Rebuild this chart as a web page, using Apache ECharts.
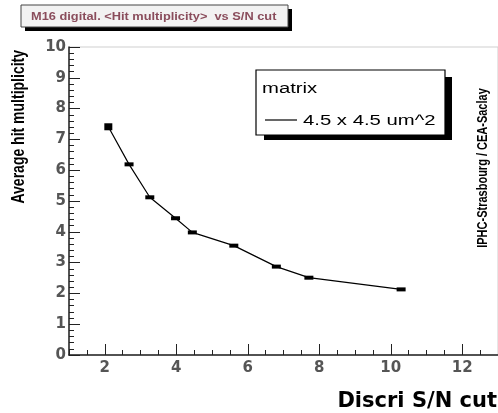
<!DOCTYPE html>
<html>
<head>
<meta charset="utf-8">
<script src="https://cdn.jsdelivr.net/npm/echarts@6/dist/echarts.min.js"></script>
<style>
  html, body { margin: 0; padding: 0; background: #fff; }
  #main { width: 498px; height: 413px; }
</style>
</head>
<body>
<div id="main"></div>
<script>
// 数据：S/N 阈值与平均击中多重数
let snCut = [2.10, 2.68, 3.26, 3.98, 4.45, 5.61, 6.80, 7.71, 10.29]
let hitMult = [7.41, 6.19, 5.12, 4.44, 3.98, 3.55, 2.87, 2.51, 2.13]
let xMajorTicks = [2, 4, 6, 8, 10, 12]
let seriesName = '4.5 x 4.5 um^2'
let legendTitle = 'matrix'
let chartTitle = 'M16 digital. <Hit multiplicity>  vs S/N cut'

let tickFont = { fontFamily: 'DejaVu Sans', fontWeight: 'bold', fontSize: 15, color: '#555' }

var myChart = echarts.init(document.getElementById('main'))
var option = {
  animation: false,
  backgroundColor: '#fff',
  grid: {
    left: 69, top: 47, width: 430, height: 308,
    show: true, borderColor: '#cfcfcf', borderWidth: 1
  },
  xAxis: [
    {
      // 小刻度
      type: 'value', min: 1, max: 13, interval: 0.5,
      axisLine: { show: true, lineStyle: { color: '#222', width: 1.5 } },
      axisTick: { inside: true, length: 5, lineStyle: { color: '#222' } },
      axisLabel: { show: false },
      splitLine: { show: false }
    },
    {
      // 大刻度和标签
      type: 'value', min: 1, max: 13, position: 'bottom', offset: 0,
      axisLine: { show: false },
      axisTick: { inside: true, length: 11, customValues: xMajorTicks, lineStyle: { color: '#222' } },
      axisLabel: Object.assign({ customValues: xMajorTicks, margin: 6 }, tickFont),
      splitLine: { show: false }
    }
  ],
  yAxis: {
    type: 'value', min: 0, max: 10, interval: 1,
    axisLine: { show: true, lineStyle: { color: '#222', width: 1.5 } },
    axisTick: { show: true, inside: true, length: 11, lineStyle: { color: '#222' } },
    minorTick: { show: true, splitNumber: 5, length: 5, lineStyle: { color: '#222' } },
    axisLabel: Object.assign({ margin: 3 }, tickFont),
    splitLine: { show: false }
  },
  series: [
    {
      name: seriesName,
      type: 'line',
      xAxisIndex: 1,
      data: snCut.map((x, i) => [x, hitMult[i]]),
      lineStyle: { color: '#000', width: 1.2 },
      itemStyle: { color: '#000' },
      symbol: 'rect',
      symbolSize: (v, p) => (p.dataIndex === 0 ? [8, 7] : [9, 4]),
      showSymbol: true
    }
  ],
  graphic: [
    // 标题框
    { type: 'rect', shape: { x: 25, y: 9, width: 267, height: 22 }, style: { fill: '#000' } },
    { type: 'rect', shape: { x: 21, y: 5, width: 267, height: 22 }, style: { fill: '#f2f2f2', stroke: '#444', lineWidth: 1 } },
    {
      type: 'text', x: 31, y: 17, scaleX: 1.28,
      style: { text: chartTitle, fontFamily: 'Liberation Sans', fontWeight: 'bold', fontSize: 10, fill: '#8a4d5c', verticalAlign: 'middle' }
    },
    // 图例框
    { type: 'rect', shape: { x: 264, y: 77, width: 188, height: 63 }, style: { fill: '#000' } },
    { type: 'rect', shape: { x: 256, y: 70, width: 189, height: 65 }, style: { fill: '#fff', stroke: '#000', lineWidth: 1.2 } },
    {
      type: 'text', x: 262, y: 89, scaleX: 1.45,
      style: { text: legendTitle, fontFamily: 'Liberation Sans', fontSize: 14, fill: '#000', verticalAlign: 'middle' }
    },
    { type: 'line', shape: { x1: 265, y1: 120, x2: 297, y2: 120 }, style: { stroke: '#000', lineWidth: 1.2 } },
    {
      type: 'text', x: 303, y: 121, scaleX: 1.45,
      style: { text: seriesName, fontFamily: 'Liberation Sans', fontSize: 14, fill: '#000', verticalAlign: 'middle' }
    },
    // 坐标轴标题
    {
      type: 'text', x: 19, y: 50, rotation: Math.PI / 2, scaleY: 1.3,
      style: { text: 'Average hit multiplicity', fontFamily: 'Liberation Sans', fontWeight: 'bold', fontSize: 14, fill: '#000', align: 'right', verticalAlign: 'middle' }
    },
    {
      type: 'text', x: 497, y: 402,
      style: { text: 'Discri S/N cut', fontFamily: 'DejaVu Sans', fontWeight: 'bold', fontSize: 21, fill: '#000', align: 'right', verticalAlign: 'middle' }
    },
    {
      type: 'text', x: 483, y: 168, rotation: Math.PI / 2, scaleY: 1.3,
      style: { text: 'IPHC-Strasbourg / CEA-Saclay', fontFamily: 'Liberation Sans', fontWeight: 'bold', fontSize: 11, fill: '#000', align: 'center', verticalAlign: 'middle' }
    }
  ]
}
myChart.setOption(option)
</script>
</body>
</html>
